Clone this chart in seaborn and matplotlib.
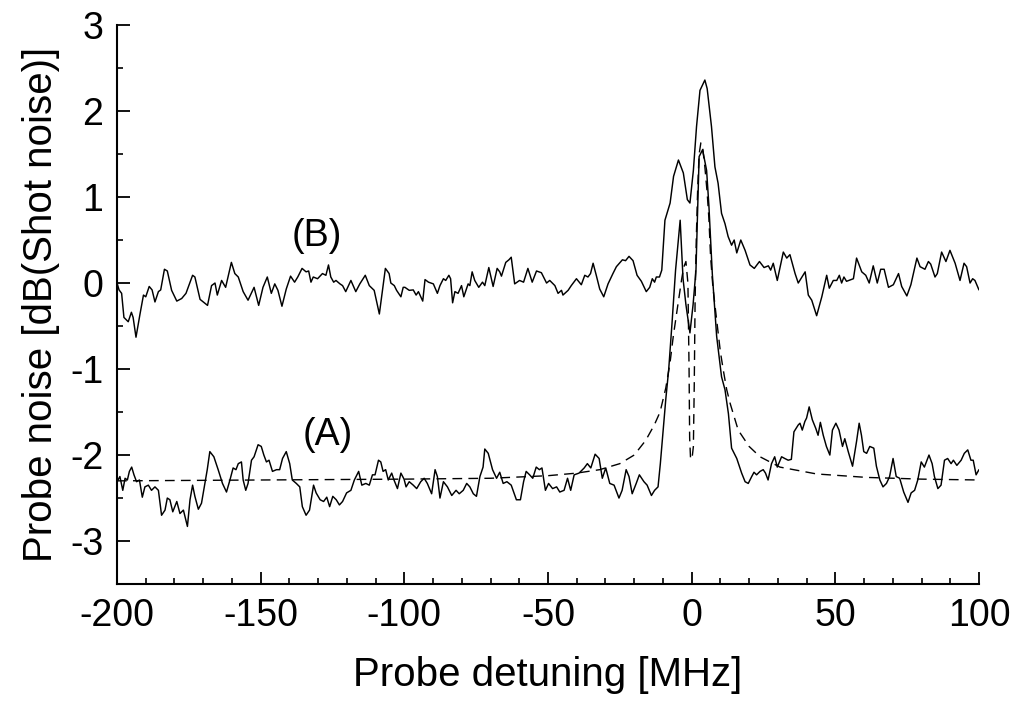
import numpy as np
import pandas as pd
import matplotlib
matplotlib.use("Agg")
import matplotlib.pyplot as plt
import seaborn as sns
from matplotlib.ticker import MultipleLocator

# ---------------- data ----------------
b_x = [-200.0, -199.3, -198.4, -197.6, -196.1, -195.0, -194.4, -193.4, -192.0, -190.8,
       -190.0, -188.8, -187.8, -186.8, -185.6, -184.8, -183.5, -182.5, -181.0, -179.2,
       -177.5, -176.0, -173.7, -172.9, -171.1, -168.5, -167.1, -165.9, -165.1, -163.6,
       -162.2, -160.2, -159.0, -157.8, -156.1, -154.4, -152.3, -150.7, -149.2, -147.7,
       -146.3, -145.1, -144.0, -142.6, -141.1, -139.6, -138.2, -137.1, -135.6, -134.2,
       -133.3, -132.5, -131.7, -130.2, -128.5, -127.3, -126.4, -125.6, -124.6, -123.8,
       -122.4, -121.5, -120.4, -118.6, -116.9, -115.5, -113.6, -112.2, -110.5, -108.7,
       -106.6, -105.3, -104.7, -103.5, -102.7, -101.2, -100.4, -99.8, -98.3, -96.9,
       -95.9, -95.1, -93.6, -92.8, -91.6, -89.9, -88.5, -87.6, -86.4, -85.6,
       -84.5, -83.9, -83.2, -82.4, -81.3, -80.1, -79.3, -77.8, -77.2, -76.4,
       -75.5, -74.1, -72.8, -72.0, -70.6, -69.1, -67.7, -66.8, -66.2, -64.7,
       -63.6, -62.8, -61.6, -59.9, -58.5, -57.0, -55.5, -54.0, -52.3, -50.5,
       -49.4, -47.6, -46.5, -45.3, -44.8, -43.0, -41.9, -40.1, -38.4, -37.2,
       -36.1, -35.2, -34.3, -33.2, -32.0, -30.6, -29.1, -27.4, -26.2, -24.1,
       -23.0, -21.8, -20.4, -19.0, -17.5, -15.8, -14.6, -13.7, -12.9, -12.3,
       -11.2, -10.4, -9.3, -7.5, -6.3, -4.6, -2.9, -1.5, -0.6, 0.6,
       1.7, 2.9, 4.6, 5.4, 6.9, 8.1, 9.2, 10.4, 11.6, 12.7,
       13.9, 14.8, 15.7, 17.1, 18.6, 20.3, 21.8, 23.6, 25.2, 26.7,
       27.5, 28.4, 29.8, 31.9, 33.1, 34.2, 36.0, 37.1, 39.5, 40.6,
       41.8, 43.5, 45.3, 47.0, 47.9, 49.3, 50.5, 51.4, 52.2, 53.0,
       53.9, 56.3, 57.4, 59.2, 60.6, 61.8, 63.2, 64.6, 65.8, 67.0,
       68.5, 70.2, 72.0, 73.1, 74.9, 76.3, 78.4, 79.5, 81.2, 82.4,
       83.2, 84.7, 85.5, 87.0, 88.5, 89.9, 91.7, 93.4, 94.8, 95.7,
       96.9, 97.8, 98.6, 100.0]
b_y = [0.00, -0.08, -0.12, -0.40, -0.45, -0.34, -0.40, -0.63, -0.36, -0.14,
       -0.16, -0.04, -0.08, -0.22, -0.10, -0.08, 0.16, 0.14, -0.085, -0.21,
       -0.18, -0.12, 0.09, 0.07, -0.19, -0.26, -0.03, 0.00, -0.14, 0.03,
       -0.05, 0.24, 0.11, 0.07, -0.10, -0.20, -0.05, -0.26, -0.05, 0.07,
       -0.12, -0.01, -0.085, -0.27, -0.07, 0.08, 0.01, 0.07, 0.17, 0.13,
       0.14, 0.01, 0.07, 0.05, 0.11, 0.09, 0.21, 0.07, 0.01, 0.03,
       -0.01, -0.03, -0.10, 0.03, -0.10, -0.01, 0.09, -0.03, -0.085, -0.36,
       0.17, 0.11, 0.00, -0.03, -0.085, -0.16, -0.05, -0.05, -0.085, -0.08,
       -0.14, -0.10, -0.21, 0.04, 0.01, -0.01, -0.12, -0.03, 0.05, 0.03,
       0.09, 0.05, -0.23, -0.10, -0.12, -0.03, -0.16, -0.01, -0.03, 0.13,
       0.03, -0.05, 0.01, -0.03, 0.18, -0.04, 0.17, 0.13, 0.08, 0.24,
       0.27, 0.30, -0.01, 0.03, 0.01, 0.17, 0.01, 0.14, 0.12, 0.00,
       0.03, -0.03, -0.12, -0.085, -0.14, -0.085, -0.03, 0.05, -0.02, 0.09,
       0.07, 0.11, 0.23, 0.09, -0.07, -0.16, -0.01, 0.11, 0.19, 0.27,
       0.26, 0.31, 0.26, 0.09, 0.02, -0.10, -0.05, 0.05, 0.01, 0.07,
       0.07, 0.15, 0.73, 0.93, 1.24, 1.43, 1.28, 0.97, 0.93, 1.31,
       1.82, 2.24, 2.36, 2.26, 1.82, 1.35, 1.16, 0.81, 0.69, 0.54,
       0.44, 0.50, 0.35, 0.50, 0.38, 0.21, 0.17, 0.25, 0.18, 0.20,
       0.15, 0.23, 0.03, 0.36, 0.29, 0.33, 0.11, 0.00, 0.13, -0.14,
       -0.20, -0.38, -0.16, 0.09, -0.06, 0.03, 0.03, 0.09, 0.00, 0.07,
       0.02, 0.05, 0.29, 0.13, 0.09, 0.00, 0.20, 0.00, 0.16, 0.16,
       -0.05, -0.02, 0.11, -0.04, -0.15, -0.02, 0.29, 0.19, 0.16, 0.25,
       0.22, 0.07, 0.11, 0.36, 0.25, 0.38, 0.23, 0.03, 0.23, 0.19,
       0.00, 0.05, 0.03, -0.08]

a_x = [-200.0, -199.0, -198.0, -197.2, -196.4, -195.7, -194.9, -194.1, -193.2, -192.2,
       -191.2, -190.3, -189.1, -188.0, -186.8, -185.6, -184.5, -183.3, -182.5, -181.6,
       -180.6, -179.2, -178.1, -176.9, -175.5, -174.6, -173.7, -172.9, -171.7, -170.6,
       -169.4, -168.6, -167.7, -166.3, -164.8, -163.3, -161.9, -160.7, -159.6, -158.6,
       -157.8, -156.7, -156.1, -155.2, -154.4, -153.2, -152.3, -150.9, -149.8, -148.9,
       -148.0, -147.1, -145.9, -144.5, -143.4, -142.4, -141.1, -139.9, -139.0, -137.6,
       -136.4, -135.5, -134.2, -133.0, -131.6, -130.7, -129.3, -128.1, -127.0, -126.0,
       -124.9, -123.7, -122.6, -121.5, -120.1, -118.6, -117.4, -115.9, -114.8, -113.4,
       -112.2, -111.1, -110.2, -109.0, -108.2, -107.4, -106.5, -105.6, -104.4, -103.6,
       -102.4, -101.2, -100.1, -99.4, -98.3, -96.9, -95.7, -94.3, -93.1, -92.0,
       -90.5, -89.3, -88.5, -87.6, -86.4, -85.0, -83.5, -82.0, -80.9, -79.5,
       -78.3, -77.2, -76.0, -74.9, -73.7, -72.6, -72.0, -70.8, -69.3, -67.9,
       -66.8, -65.6, -64.3, -62.8, -61.0, -59.6, -58.5, -57.6, -56.4, -55.3,
       -54.1, -53.0, -52.1, -50.9, -49.8, -48.4, -47.0, -45.9, -44.4, -43.2,
       -42.1, -40.9, -39.2, -37.4, -36.3, -35.1, -33.6, -32.2, -31.1, -29.9,
       -28.5, -27.0, -25.3, -24.2, -22.8, -21.8, -20.7, -19.3, -18.2, -16.6,
       -15.5, -14.0, -12.9, -11.7, -10.9, -10.0, -9.0, -8.0, -6.8, -5.6,
       -4.0, -3.0, -2.0, -0.6, 0.5, 1.5, 2.6, 3.8, 5.2, 6.0,
       7.2, 8.7, 10.4, 11.6, 12.8, 13.9, 15.7, 17.4, 18.6, 19.7,
       20.9, 21.7, 22.6, 23.8, 24.9, 25.7, 26.6, 27.8, 28.9, 29.8,
       31.3, 32.4, 33.6, 34.7, 35.6, 37.1, 37.7, 38.5, 39.4, 40.0,
       40.9, 42.0, 43.2, 44.0, 44.8, 45.8, 46.9, 48.1, 49.0, 50.2,
       51.3, 52.5, 53.3, 54.5, 56.0, 57.4, 58.3, 59.1, 59.9, 60.9,
       62.0, 63.4, 64.3, 65.5, 66.6, 67.8, 68.9, 70.1, 71.2, 72.4,
       73.8, 75.3, 76.4, 77.6, 78.7, 79.9, 81.0, 82.6, 83.7, 84.5,
       85.7, 86.8, 88.0, 89.1, 90.3, 91.1, 92.3, 93.8, 94.9, 96.1,
       97.2, 98.0, 99.0, 100.0]
a_y = [-2.31, -2.25, -2.41, -2.27, -2.29, -2.19, -2.14, -2.23, -2.31, -2.29,
       -2.49, -2.37, -2.35, -2.41, -2.37, -2.41, -2.70, -2.64, -2.50, -2.52,
       -2.66, -2.54, -2.68, -2.64, -2.83, -2.52, -2.35, -2.48, -2.63, -2.56,
       -2.33, -2.17, -1.96, -2.02, -2.17, -2.33, -2.43, -2.29, -2.15, -2.17,
       -2.10, -2.08, -2.29, -2.41, -2.33, -2.06, -2.02, -1.88, -1.90, -2.00,
       -2.08, -2.06, -2.19, -2.17, -2.17, -2.04, -1.96, -2.10, -2.29, -2.33,
       -2.37, -2.60, -2.70, -2.64, -2.35, -2.44, -2.52, -2.54, -2.49, -2.60,
       -2.48, -2.52, -2.58, -2.54, -2.44, -2.41, -2.29, -2.19, -2.35, -2.33,
       -2.35, -2.23, -2.23, -2.06, -2.08, -2.19, -2.17, -2.29, -2.21, -2.29,
       -2.39, -2.21, -2.28, -2.37, -2.31, -2.35, -2.39, -2.31, -2.27, -2.33,
       -2.45, -2.17, -2.25, -2.50, -2.31, -2.37, -2.47, -2.41, -2.45, -2.41,
       -2.33, -2.37, -2.45, -2.48, -2.25, -2.14, -1.93, -1.98, -2.17, -2.27,
       -2.20, -2.33, -2.31, -2.35, -2.52, -2.52, -2.31, -2.19, -2.23, -2.27,
       -2.14, -2.17, -2.15, -2.41, -2.33, -2.39, -2.37, -2.43, -2.41, -2.27,
       -2.41, -2.23, -2.21, -2.15, -2.10, -2.15, -1.99, -2.04, -2.27, -2.15,
       -2.33, -2.35, -2.50, -2.41, -2.17, -2.25, -2.45, -2.33, -2.23, -2.31,
       -2.35, -2.47, -2.41, -2.37, -2.10, -1.75, -1.35, -1.01, -0.45, 0.15,
       0.73, 0.05, -0.25, -0.58, -0.25, 0.15, 1.47, 1.55, 1.31, 0.90,
       0.10, -0.62, -1.09, -1.24, -1.52, -1.92, -2.04, -2.21, -2.31, -2.33,
       -2.25, -2.20, -2.23, -2.19, -2.17, -2.21, -2.29, -2.10, -2.02, -2.14,
       -2.02, -2.04, -2.06, -2.05, -1.73, -1.65, -1.63, -1.71, -1.61, -1.57,
       -1.44, -1.59, -1.69, -1.77, -1.62, -1.77, -1.90, -2.00, -1.71, -1.63,
       -1.71, -1.90, -1.81, -1.96, -2.13, -1.84, -1.63, -1.77, -1.96, -1.98,
       -1.90, -1.92, -2.13, -2.29, -2.37, -2.33, -2.25, -2.04, -2.25, -2.27,
       -2.43, -2.55, -2.44, -2.41, -2.29, -2.08, -2.14, -2.00, -2.10, -2.25,
       -2.39, -2.35, -2.06, -2.04, -2.10, -2.06, -2.12, -2.06, -1.98, -1.94,
       -2.06, -2.06, -2.23, -2.17]

fit_x = [-200, -150, -100, -70, -50, -40, -32, -25, -20, -16,
         -13, -11, -9, -7.5, -6.4, -5.0, -3.5, -2.8, -2.0, -1.3,
         -0.9, -0.7, -0.4, 0.1, 0.6, 0.9, 1.2, 1.6, 2.1, 2.6,
         3.2, 3.8, 4.6, 5.4, 6.0, 6.6, 7.4, 8.7, 10, 11,
         12.2, 13.4, 16.2, 20, 23.8, 30.7, 43.5, 60.9, 80, 100]
fit_y = [-2.30, -2.29, -2.28, -2.27, -2.24, -2.21, -2.17, -2.10, -2.00, -1.83,
         -1.65, -1.50, -1.22, -0.92, -0.62, -0.30, 0.04, 0.18, 0.25, 0.00,
         -1.00, -1.80, -2.03, -2.05, -1.90, -1.20, -0.20, 0.50, 1.10, 1.50,
         1.63, 1.58, 1.35, 1.05, 0.75, 0.30, -0.05, -0.43, -0.80, -1.01,
         -1.24, -1.40, -1.71, -1.90, -2.02, -2.14, -2.22, -2.26, -2.28, -2.29]

x_ticks = [-200, -150, -100, -50, 0, 50, 100]
y_ticks = [-3, -2, -1, 0, 1, 2, 3]
labels = {"(B)": (-130.5, 0.55), "(A)": (-126.5, -1.77)}

# ---------------- drawing ----------------
sns.set_style("ticks")
plt.rcParams['font.family'] = ['Liberation Sans', 'DejaVu Sans']
plt.rcParams['text.color'] = 'black'
plt.rcParams['axes.labelcolor'] = 'black'
plt.rcParams['xtick.color'] = 'black'
plt.rcParams['ytick.color'] = 'black'

fig = plt.figure(figsize=(10.15, 7.02), dpi=100)
ax = fig.add_axes([0.1153, 0.168, 0.8492, 0.7964])

sns.lineplot(x=b_x, y=b_y, ax=ax, color='black', linewidth=1.05,
             sort=False, estimator=None)
sns.lineplot(x=a_x, y=a_y, ax=ax, color='black', linewidth=1.05,
             sort=False, estimator=None)
sns.lineplot(x=fit_x, y=fit_y, ax=ax, color='black', linewidth=1.0,
             sort=False, estimator=None, linestyle=(0, (7, 4.5)))

for txt, (tx, ty) in labels.items():
    ax.text(tx, ty, txt, fontsize=27, ha='center', va='center', color='black')

ax.set_xlim(-200, 100)
ax.set_ylim(-3.5, 3)
ax.set_xticks(x_ticks)
ax.set_xticklabels([str(v) for v in x_ticks])
ax.set_yticks(y_ticks)
ax.set_yticklabels([str(v) for v in y_ticks])
ax.xaxis.set_minor_locator(MultipleLocator(10))
ax.yaxis.set_minor_locator(MultipleLocator(0.5))
ax.tick_params(axis='both', which='major', direction='in', length=9, width=1.3,
               labelsize=27, pad=10, colors='black', labelcolor='black')
ax.tick_params(axis='both', which='minor', direction='in', length=4.5, width=1.2,
               colors='black')

ax.set_xlabel("Probe detuning [MHz]", fontsize=29, labelpad=16, color='black')
ax.set_ylabel("Probe noise [dB(Shot noise)]", fontsize=29, labelpad=7, color='black')

sns.despine(ax=ax)
for s in ['left', 'bottom']:
    ax.spines[s].set_linewidth(1.5)
    ax.spines[s].set_color('black')

fig.savefig("out.png", dpi=100, facecolor='white')
